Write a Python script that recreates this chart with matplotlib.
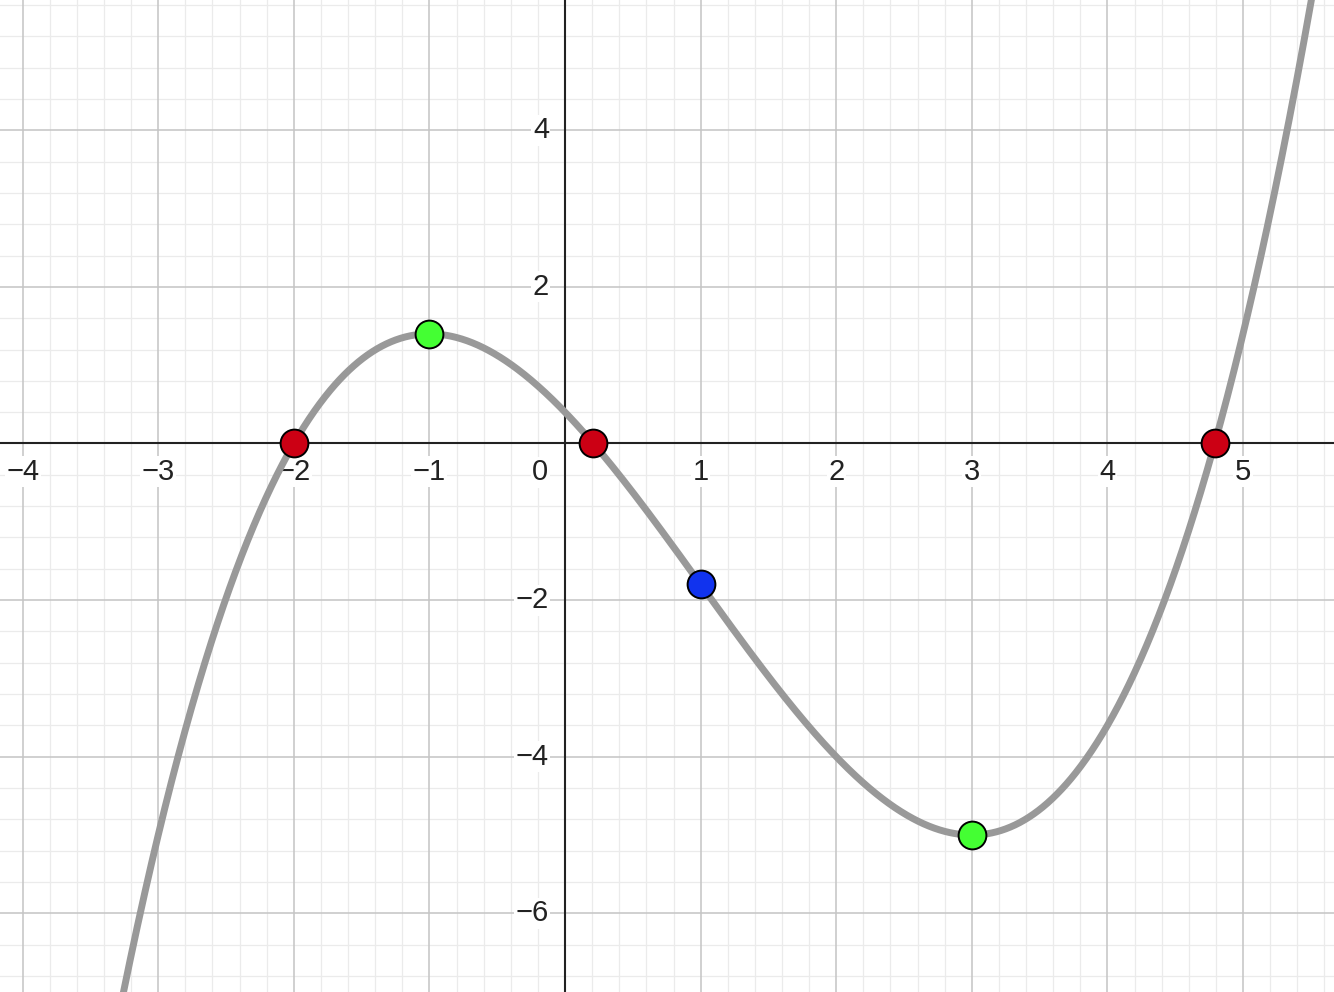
import numpy as np
import matplotlib
matplotlib.use("Agg")
import matplotlib.pyplot as plt

# ---- data ----
cubic_coeffs = [0.2, -0.6, -1.8, 0.4]          # f(x) = 0.2x^3 - 0.6x^2 - 1.8x + 0.4
root_x = [-2.0, 0.209, 4.791]
root_y = [0.0, 0.0, 0.0]
extrema_x = [-1.0, 3.0]
extrema_y = [1.4, -5.0]
inflection_x = [1.0]
inflection_y = [-1.8]
x_ticks = [-4, -3, -2, -1, 1, 2, 3, 4, 5]
y_ticks = [-6, -4, -2, 2, 4]

plt.rcParams['font.family'] = ['Liberation Sans', 'DejaVu Sans']

fig = plt.figure(figsize=(13.34, 9.92), dpi=100)
ax = fig.add_axes([0, 0, 1, 1])
xmin, xmax = -4.167, 5.671
ymin, ymax = -7.005, 5.664
ax.set_xlim(xmin, xmax)
ax.set_ylim(ymin, ymax)
for s in ax.spines.values():
    s.set_visible(False)
ax.set_xticks([])
ax.set_yticks([])

# grid
for gx in np.arange(-4.2, 5.8, 0.2):
    major = abs(gx - round(gx)) < 1e-6
    ax.axvline(gx, color='#c4c4c4' if major else '#ebebeb',
               lw=1.1 if major else 0.9, zorder=0 if not major else 0.5)
for gy in np.arange(-7.2, 6.0, 0.4):
    major = abs(gy / 2 - round(gy / 2)) < 1e-6
    ax.axhline(gy, color='#c4c4c4' if major else '#ebebeb',
               lw=1.1 if major else 0.9, zorder=0 if not major else 0.5)

# axes
ax.axhline(0, color='#222222', lw=1.5, zorder=2)
ax.axvline(0, color='#222222', lw=1.5, zorder=2)

# tick labels
fs = 21
bb = dict(facecolor='white', edgecolor='none', pad=1.0)
for t in x_ticks:
    ax.text(t, -0.36, str(t).replace('-', '\u2212'), ha='center', va='center',
            fontsize=fs, color='#222222', bbox=bb, zorder=3)
for t in y_ticks:
    ax.text(-0.118, t, str(t).replace('-', '\u2212'), ha='right', va='center',
            fontsize=fs, color='#222222', bbox=bb, zorder=3)
ax.text(-0.184, -0.37, '0', ha='center', va='center', fontsize=fs,
        color='#222222', bbox=bb, zorder=3)

# curve
xs = np.linspace(xmin, xmax, 2000)
ys = np.polyval(cubic_coeffs, xs)
ax.plot(xs, ys, color='#999999', lw=5.0, solid_capstyle='round', zorder=4)

# points
ms = 20
ax.plot(root_x, root_y, 'o', ms=ms, mfc='#cc0014', mec='black', mew=1.4, zorder=5)
ax.plot(extrema_x, extrema_y, 'o', ms=ms, mfc='#44ff33', mec='black', mew=1.4, zorder=5)
ax.plot(inflection_x, inflection_y, 'o', ms=ms, mfc='#1133ee', mec='black', mew=1.4, zorder=5)

fig.savefig('out.png', dpi=100)
